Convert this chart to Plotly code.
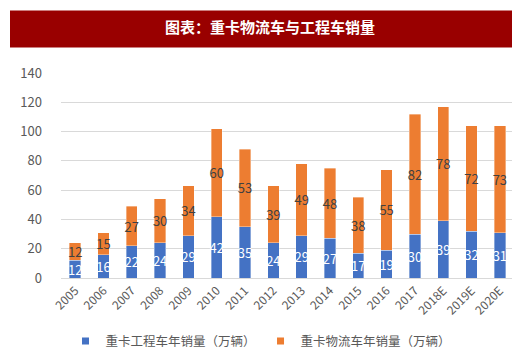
import plotly.graph_objects as go

years = ["2005", "2006", "2007", "2008", "2009", "2010", "2011", "2012", "2013",
         "2014", "2015", "2016", "2017", "2018E", "2019E", "2020E"]
engineering = [12, 16, 22, 24, 29, 42, 35, 24, 29, 27, 17, 19, 30, 39, 32, 31]
logistics = [12, 15, 27, 30, 34, 60, 53, 39, 49, 48, 38, 55, 82, 78, 72, 73]
y_ticks = [0, 20, 40, 60, 80, 100, 120, 140]
names = ["重卡工程车年销量（万辆）", "重卡物流车年销量（万辆）"]
colors = ["#4472C4", "#ED7D31"]

FONT = "Noto Sans CJK SC"
W, H = 520, 361
L, R, T, B = 53, 14, 65, 86
pw, ph = W - L - R, H - T - B

def px_x(x):
    return (x - L) / pw

def px_y(y):
    return (H - B - y) / ph

fig = go.Figure()
for vals, name, col, tcol in [(engineering, names[0], colors[0], "white"),
                              (logistics, names[1], colors[1], "#404040")]:
    fig.add_trace(go.Bar(
        x=years, y=vals, name=name, showlegend=False,
        marker=dict(color=col, line=dict(color="rgba(255,255,255,0.6)", width=0.6)),
        text=[str(v) for v in vals], textposition="inside",
        insidetextanchor="middle", constraintext="none",
        textfont=dict(color=tcol, size=13, family=FONT),
    ))
for name, col in zip(names, colors):
    fig.add_trace(go.Scatter(
        x=[None], y=[None], mode="markers", name=name,
        marker=dict(symbol="square", size=7, color=col),
    ))

fig.update_layout(
    width=W, height=H, barmode="stack", bargap=0.6,
    margin=dict(l=L, r=R, t=T, b=B),
    paper_bgcolor="white", plot_bgcolor="white",
    font=dict(family=FONT, color="#595959", size=12),
    title=dict(text="<b>图表：重卡物流车与工程车销量</b>", x=262 / W, xanchor="center",
               y=1 - 20 / H, yanchor="middle",
               font=dict(color="white", size=15, family=FONT)),
    showlegend=True,
    legend=dict(orientation="h", x=px_x(253), xanchor="center", y=px_y(340), yanchor="middle",
                font=dict(size=12.5, color="#595959", family=FONT),
                itemwidth=30, traceorder="normal", tracegroupgap=0),
    shapes=[dict(type="rect", xref="paper", yref="paper",
                 x0=px_x(2), x1=px_x(520), y0=px_y(1), y1=px_y(39),
                 fillcolor="#990000", line=dict(width=0), layer="below")],
    xaxis=dict(tickangle=-45, tickfont=dict(size=12, color="#595959"),
               showline=True, linecolor="#D9D9D9", ticks="", showgrid=False),
    yaxis=dict(range=[0, 140], tickvals=y_ticks, showgrid=True, gridcolor="#D9D9D9",
               zeroline=False, tickfont=dict(size=13, color="#595959"), ticks="",
               ticklabelstandoff=18),
)

fig.write_html("out.html")
